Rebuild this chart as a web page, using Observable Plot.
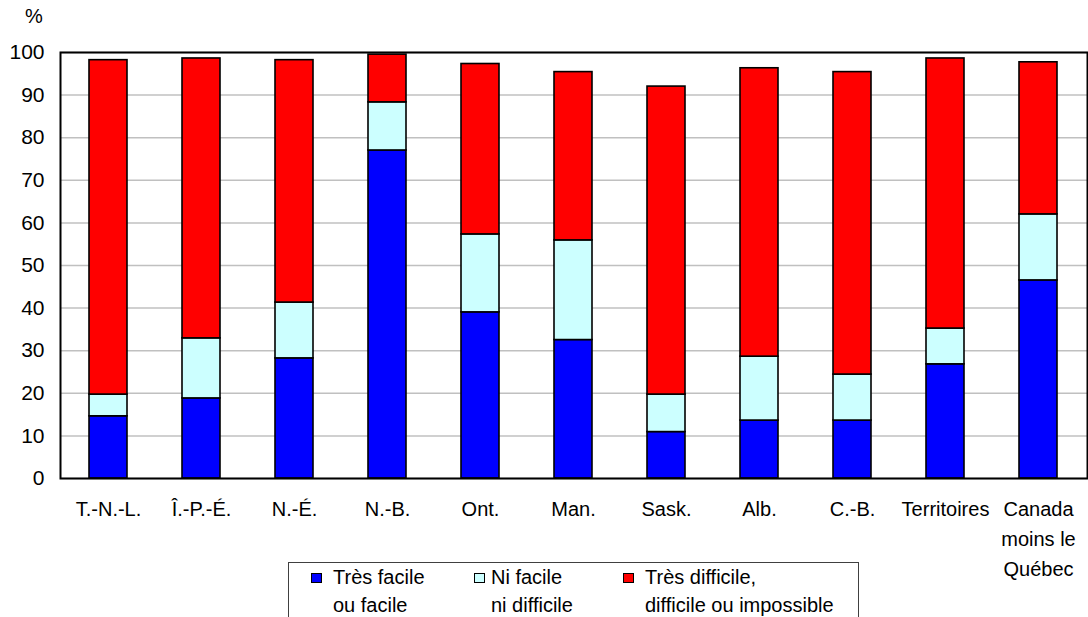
<!DOCTYPE html>
<html>
<head>
<meta charset="utf-8">
<script src="https://cdn.jsdelivr.net/npm/d3@7"></script>
<script src="https://cdn.jsdelivr.net/npm/@observablehq/plot@0.6"></script>
<style>
  html, body { margin: 0; padding: 0; background: #fff; overflow: hidden; }
  body { font-family: "Liberation Sans", Arial, sans-serif; }
  #wrap { position: relative; width: 1088px; height: 617px; }
  #pct { position: absolute; left: 25px; top: 5px; font-size: 20px; line-height: 23px; color: #000; }
  #legend { position: absolute; left: 288px; top: 562px; width: 571px; height: 70px;
            border: 1px solid #404040; box-sizing: border-box; font-size: 20px; color: #000; }
  .sw { position: absolute; top: 10px; width: 9px; height: 8px; border: 1.5px solid #000; }
  .txt { position: absolute; top: 0px; white-space: nowrap; line-height: 28px; }
</style>
</head>
<body>
<div id="wrap">
  <div id="chart"></div>
  <div id="pct">%</div>
  <div id="legend"></div>
</div>
<script>
const categories = ["T.-N.-L.", "Î.-P.-É.", "N.-É.", "N.-B.", "Ont.", "Man.", "Sask.", "Alb.", "C.-B.", "Territoires", "Canada moins le Québec"];
const categoryLabels = ["T.-N.-L.", "Î.-P.-É.", "N.-É.", "N.-B.", "Ont.", "Man.", "Sask.", "Alb.", "C.-B.", "Territoires", "Canada\nmoins le\nQuébec"];
const series = ["Très facile ou facile", "Ni facile ni difficile", "Très difficile, difficile ou impossible"];
const seriesLegend = [["Très facile", "ou facile"], ["Ni facile", "ni difficile"], ["Très difficile,", "difficile ou impossible"]];
const colors = ["#0000ff", "#ccffff", "#ff0000"];
const easy      = [14.6, 18.8, 28.2, 77.0, 39.0, 32.5, 10.9, 13.6, 13.6, 26.8, 46.5];
const neither   = [ 5.1, 14.1, 13.1, 11.3, 18.3, 23.4,  8.8, 15.0, 10.8,  8.4, 15.5];
const difficult = [78.5, 65.7, 56.9, 11.2, 40.0, 39.5, 72.3, 67.7, 71.0, 63.4, 35.7];
const yTicks = [0, 10, 20, 30, 40, 50, 60, 70, 80, 90, 100];

const values = [easy, neither, difficult];
const data = [];
series.forEach((s, si) => categories.forEach((c, ci) => data.push({category: c, series: s, value: values[si][ci]})));
const labelOf = new Map(categories.map((c, i) => [c, categoryLabels[i]]));

const chart = Plot.plot({
  width: 1088,
  height: 617,
  marginTop: 52,
  marginBottom: 139,
  marginLeft: 60,
  marginRight: 1,
  style: {fontFamily: "Liberation Sans, Arial, sans-serif", fontSize: "20px", color: "#000", background: "#fff"},
  x: {domain: categories, paddingInner: 0.59, paddingOuter: 0.295, axis: null},
  y: {domain: [0, 100], axis: null},
  color: {domain: series, range: colors},
  marks: [
    Plot.gridY(yTicks, {stroke: "#c0c0c0", strokeOpacity: 1, strokeWidth: 1.5}),
    Plot.barY(data, {x: "category", y: "value", fill: "series", stroke: "#000", strokeWidth: 1.6}),
    Plot.frame({stroke: "#000", strokeWidth: 2}),
    Plot.axisY(yTicks, {tickSize: 0, tickPadding: 16, fontSize: 21, tickFormat: d => d, label: null}),
    Plot.text(categories, {x: d => d, text: d => labelOf.get(d), frameAnchor: "bottom", dy: 16, lineAnchor: "top", lineHeight: 1.5, fontSize: 20, fill: "#000"})
  ]
});
document.getElementById("chart").appendChild(chart);

const lg = document.getElementById("legend");
const swLeft = [22, 185, 334];
const txtLeft = [44, 202, 356];
seriesLegend.forEach((lines, i) => {
  const sw = document.createElement("div");
  sw.className = "sw";
  sw.style.left = swLeft[i] + "px";
  sw.style.background = colors[i];
  lg.appendChild(sw);
  const t = document.createElement("div");
  t.className = "txt";
  t.style.left = txtLeft[i] + "px";
  t.innerHTML = `${lines[0]}<br>${lines[1]}`;
  lg.appendChild(t);
});
</script>
</body>
</html>
